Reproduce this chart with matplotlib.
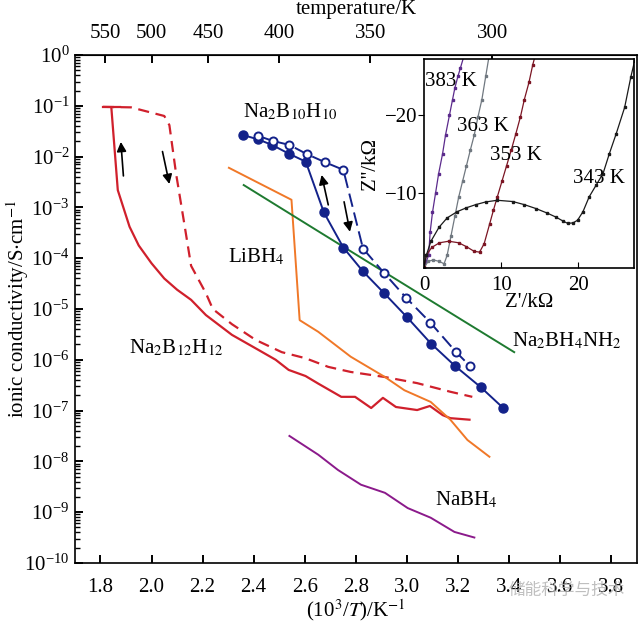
import numpy as np
import matplotlib
matplotlib.use("Agg")
import matplotlib.pyplot as plt
from matplotlib.ticker import LogLocator, NullFormatter, FixedLocator

plt.rcParams['font.family'] = ['Liberation Serif', 'DejaVu Serif']
plt.rcParams['mathtext.fontset'] = 'stix'

# --- main plot data: x = 1000/T (K^-1), y = log10(sigma / S cm^-1) ---
b12_heat_x = [1.843, 1.868, 1.914, 1.95, 2.0, 2.05, 2.1, 2.155, 2.213, 2.315, 2.42, 2.486,
              2.537, 2.603, 2.653, 2.743, 2.797, 2.86, 2.906, 2.957, 3.04, 3.09, 3.14, 3.17, 3.245]
b12_heat_y = [-1.05, -2.66, -3.38, -3.75, -4.1, -4.4, -4.62, -4.82, -5.12, -5.51, -5.81, -6.0,
              -6.2, -6.32, -6.47, -6.73, -6.73, -6.95, -6.75, -6.93, -6.99, -6.91, -7.09, -7.15, -7.18]

b12_cool_x = [1.81, 1.92, 2.05, 2.07, 2.096, 2.128, 2.155, 2.213, 2.24, 2.315, 2.408, 2.51,
              2.603, 2.692, 2.78, 2.914, 3.04, 3.17, 3.256]
b12_cool_y = [-1.02, -1.03, -1.2, -1.38, -2.33, -3.31, -4.15, -4.69, -5.0, -5.3, -5.61, -5.85,
              -5.97, -6.14, -6.24, -6.34, -6.46, -6.63, -6.73]

libh4_x = [2.303, 2.548, 2.58, 2.653, 2.78, 2.914, 2.99, 3.093, 3.17, 3.237, 3.323]
libh4_y = [-2.22, -2.85, -5.22, -5.45, -5.94, -6.34, -6.6, -6.83, -7.18, -7.58, -7.91]

nh2_x = [2.361, 2.653, 3.21, 3.42]
nh2_y = [-2.56, -3.47, -5.2, -5.85]

nabh4_x = [2.54, 2.653, 2.73, 2.82, 2.914, 3.003, 3.093, 3.186, 3.264]
nabh4_y = [-7.5, -7.87, -8.17, -8.46, -8.62, -8.92, -9.11, -9.39, -9.5]

b10_fill_x = [2.358, 2.417, 2.472, 2.537, 2.604, 2.675, 2.751, 2.828, 2.911, 3.0, 3.094,
              3.188, 3.289, 3.377]
b10_fill_y = [-1.575, -1.66, -1.77, -1.94, -2.1, -3.1, -3.79, -4.26, -4.69, -5.16, -5.68,
              -6.12, -6.54, -6.95]

b10_open_x = [2.417, 2.474, 2.54, 2.608, 2.679, 2.751, 2.828, 2.912, 2.997, 3.092, 3.191, 3.246]
b10_open_y = [-1.59, -1.69, -1.77, -1.95, -2.11, -2.26, -3.81, -4.3, -4.78, -5.27, -5.84, -6.12]

temp_ticks = [550, 500, 450, 400, 350, 300]

# --- inset: Nyquist plots (Z', Z'' in kOhm) ---
k383_re = [0.0, 0.3, 0.6, 0.8, 1.1, 1.5, 1.9, 2.4, 2.8, 3.3, 3.7, 4.0, 4.4, 4.7, 5.3]
k383_im = [-0.3, -1.2, -2.0, -5.0, -7.5, -10.0, -12.5, -15.0, -17.5, -20.0, -22.0, -23.5,
           -25.0, -26.0, -28.0]

k363_re = [0.0, 0.5, 1.2, 2.0, 2.6, 3.0, 3.5, 4.0, 4.5, 5.0, 5.5, 6.0, 6.5, 7.0, 7.5, 8.0, 8.5]
k363_im = [-0.3, -1.2, -1.4, -1.2, -0.9, -2.0, -4.5, -7.0, -9.5, -11.5, -13.5, -15.5, -17.4,
           -19.8, -22.0, -25.0, -28.0]

k353_re = [0.0, 0.3, 1.0, 2.0, 3.2, 4.5, 5.5, 6.5, 7.2, 7.8, 8.5, 9.0, 9.5, 10.1, 10.7, 11.3,
           11.9, 12.5, 13.0, 13.6, 14.1, 14.5]
k353_im = [-0.5, -2.0, -3.0, -3.6, -3.8, -3.6, -3.1, -2.5, -2.4, -3.5, -6.0, -7.8, -9.5,
           -11.5, -13.5, -15.5, -17.6, -19.8, -22.0, -24.2, -26.5, -28.0]

k343_re = [0.0, 0.3, 0.9, 1.95, 3.0, 4.3, 5.5, 6.7, 8.0, 9.5, 11.5, 13.0, 14.5, 16.0, 17.1,
           18.0, 18.6, 19.3, 19.9, 20.6, 21.4, 22.3, 23.2, 24.0, 24.9, 26.0, 26.8, 27.3]
k343_im = [-0.3, -2.0, -3.8, -5.6, -6.8, -7.6, -8.1, -8.5, -8.85, -9.06, -8.9, -8.5, -8.0,
           -7.4, -6.9, -6.4, -6.1, -6.15, -6.5, -7.6, -9.5, -11.0, -12.5, -15.0, -17.6, -21.0,
           -24.9, -27.0]

red = '#d0202c'
blue = '#13228a'
fs = 15

fig = plt.figure(figsize=(6.4, 6.22), dpi=100)
ax = fig.add_axes([0.117, 0.095, 0.878, 0.8165])

ax.plot(b12_heat_x, 10 ** np.array(b12_heat_y), color=red, lw=1.6)
ax.plot(b12_cool_x, 10 ** np.array(b12_cool_y), color=red, lw=1.6, ls=(0, (5, 3)))
ax.plot([1.81, 1.875], [10 ** -1.02] * 2, color=red, lw=1.6)
ax.plot(libh4_x, 10 ** np.array(libh4_y), color='#f07828', lw=1.4)
ax.plot(nh2_x, 10 ** np.array(nh2_y), color='#1e7a30', lw=1.4)
ax.plot(nabh4_x, 10 ** np.array(nabh4_y), color='#8b1a8b', lw=1.4)
ax.plot(b10_fill_x, 10 ** np.array(b10_fill_y), color=blue, lw=1.4, marker='o', ms=6.5,
        mfc=blue, mec=blue)
ax.plot(b10_open_x, 10 ** np.array(b10_open_y), color=blue, lw=1.4, ls=(0, (7, 3)),
        marker='o', ms=5.8, mfc='white', mec=blue, mew=1.4)

# heating / cooling arrows
arrows = [((1.89, -2.38), (1.88, -1.71)), ((2.043, -1.90), (2.07, -2.54)),
          ((2.692, -2.95), (2.666, -2.36)), ((2.754, -2.89), (2.777, -3.48))]
for (x0, y0), (x1, y1) in arrows:
    ax.annotate('', xy=(x1, 10 ** y1), xytext=(x0, 10 ** y0),
                arrowprops=dict(arrowstyle='-|>', color='black', lw=1.2,
                                mutation_scale=14, shrinkA=0, shrinkB=0))

ax.set_yscale('log')
ax.set_xlim(1.7, 3.9)
ax.set_ylim(1e-10, 1)
ax.set_xticks([1.8, 2.0, 2.2, 2.4, 2.6, 2.8, 3.0, 3.2, 3.4, 3.6, 3.8])
ax.set_xticklabels(['1.8', '2.0', '2.2', '2.4', '2.6', '2.8', '3.0', '3.2', '3.4', '3.6', '3.8'])
ax.yaxis.set_major_locator(LogLocator(base=10, numticks=20))
ax.yaxis.set_minor_locator(LogLocator(base=10, subs=np.arange(2, 10), numticks=20))
ax.yaxis.set_minor_formatter(NullFormatter())
ax.tick_params(axis='both', which='major', direction='in', length=6, width=1.4, labelsize=fs)
ax.tick_params(axis='x', which='major', pad=11)
ax.tick_params(axis='y', which='major', pad=4)
ax.tick_params(axis='y', which='minor', direction='in', length=3.5, width=1.0)
ax.tick_params(axis='x', which='minor', bottom=False)
for s in ax.spines.values():
    s.set_linewidth(1.2)

ax.set_xlabel('(10$^3$/$T$)/K$^{-1}$', fontsize=fs, labelpad=0)
ax.set_ylabel('ionic conductivity/S$\\cdot$cm$^{-1}$', fontsize=fs)
ax.yaxis.set_label_coords(-0.078, 0.5)


def inv(x):
    x = np.asarray(x, dtype=float)
    with np.errstate(divide='ignore'):
        return 1000.0 / x


sec = ax.secondary_xaxis('top', functions=(inv, inv))
sec.xaxis.set_major_locator(FixedLocator(temp_ticks))
sec.xaxis.set_minor_locator(FixedLocator([]))
sec.tick_params(direction='in', length=6, width=1.4, labelsize=fs, pad=9)
sec.set_xlabel('temperature/K', fontsize=fs, labelpad=7)

# compound labels
ax.text(2.36, 10 ** -1.13, 'Na$_2$B$_{10}$H$_{10}$', fontsize=fs, va='center')
ax.text(2.3, 10 ** -3.97, 'LiBH$_4$', fontsize=fs, va='center')
ax.text(1.91, 10 ** -5.77, 'Na$_2$B$_{12}$H$_{12}$', fontsize=fs, va='center')
ax.text(3.41, 10 ** -5.62, 'Na$_2$BH$_4$NH$_2$', fontsize=fs, va='center')
ax.text(3.11, 10 ** -8.76, 'NaBH$_4$', fontsize=fs, va='center')

# inset
ins = fig.add_axes([0.6625, 0.569, 0.328, 0.336])
ins.plot(k383_re, k383_im, color='#5b2a8c', lw=0.9, marker='s', ms=1.8)
ins.plot(k363_re, k363_im, color='#707880', lw=0.9, marker='s', ms=1.8)
ins.plot(k353_re, k353_im, color='#7b1523', lw=0.9, marker='s', ms=1.8)
ins.plot(k343_re, k343_im, color='#1a1a1a', lw=0.9, marker='s', ms=1.8)
ins.set_xlim(0, 27.2)
ins.set_ylim(-0.35, -27.2)
ins.set_xticks([0, 10, 20])
ins.set_yticks([-10, -20])
ins.set_yticklabels(['\u221210', '\u221220'])
ins.tick_params(axis='x', direction='in', length=4, labelsize=fs, pad=6)
ins.tick_params(axis='y', direction='out', length=4, labelsize=fs, pad=1)
for s in ins.spines.values():
    s.set_linewidth(1.2)
ins.set_xlabel("Z'/k\u03a9", fontsize=fs, labelpad=-2)
ins.set_ylabel("Z''/k\u03a9", fontsize=fs)
ins.yaxis.set_label_coords(-0.21, 0.5)
ins.text(0.1, -24.3, '383 K', fontsize=fs, va='center')
ins.text(4.3, -18.6, '363 K', fontsize=fs, va='center')
ins.text(8.5, -14.8, '353 K', fontsize=fs, va='center')
ins.text(19.3, -11.9, '343 K', fontsize=fs, va='center')

# watermark
fig.text(0.885, 0.05, '储能科学与技术', fontsize=12, color='#b0b0b0', ha='center',
         va='center', family=['Noto Sans CJK SC', 'DejaVu Sans'], alpha=0.8)

fig.savefig('out.png', dpi=100)
